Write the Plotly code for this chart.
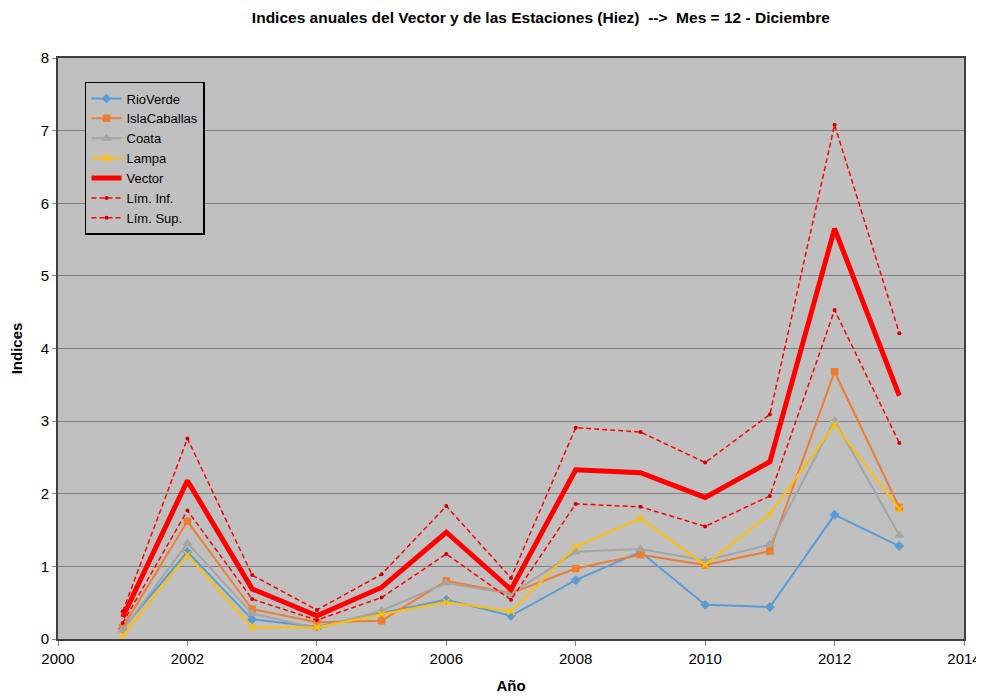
import plotly.graph_objects as go

# ================================
# Datos
# ================================
anios = [2001, 2002, 2003, 2004, 2005, 2006, 2007, 2008, 2009, 2010, 2011, 2012, 2013]

rio_verde = [0.14, 1.20, 0.27, 0.17, 0.36, 0.54, 0.32, 0.81, 1.20, 0.47, 0.44, 1.71, 1.28]
isla_caballas = [0.16, 1.62, 0.41, 0.23, 0.25, 0.80, 0.63, 0.97, 1.16, 1.02, 1.21, 3.68, 1.81]
coata = [0.12, 1.32, 0.35, 0.15, 0.39, 0.77, 0.62, 1.20, 1.24, 1.08, 1.30, 3.01, 1.43]
lampa = [0.04, 1.16, 0.16, 0.16, 0.34, 0.51, 0.38, 1.27, 1.66, 1.02, 1.72, 2.95, 1.79]
vector = [0.30, 2.18, 0.69, 0.32, 0.71, 1.47, 0.68, 2.33, 2.29, 1.95, 2.44, 5.65, 3.35]
lim_inf = [0.22, 1.77, 0.55, 0.26, 0.57, 1.17, 0.54, 1.86, 1.82, 1.55, 1.97, 4.53, 2.70]
lim_sup = [0.38, 2.76, 0.88, 0.40, 0.89, 1.83, 0.84, 2.91, 2.85, 2.43, 3.09, 7.08, 4.21]

FUENTE = "Liberation Sans, Arial"

fig = go.Figure()

estaciones = [
    ("RioVerde", rio_verde, "#5B9BD5", "diamond", 6),
    ("IslaCaballas", isla_caballas, "#ED7D31", "square", 6),
    ("Coata", coata, "#A5A5A5", "triangle-up", 7),
    ("Lampa", lampa, "#FFC000", "x-thin-open", 7),
]
for nombre, valores, color, simbolo, tam in estaciones:
    fig.add_trace(go.Scatter(
        x=anios, y=valores, name=nombre, mode="lines+markers",
        line=dict(color=color, width=2),
        marker=dict(symbol=simbolo, size=tam, color=color,
                    line=dict(color=color, width=1.5)),
    ))

fig.add_trace(go.Scatter(
    x=anios, y=vector, name="Vector", mode="lines",
    line=dict(color="#FF0000", width=5),
))
for nombre, valores in [("Lím. Inf.", lim_inf), ("Lím. Sup.", lim_sup)]:
    fig.add_trace(go.Scatter(
        x=anios, y=valores, name=nombre, mode="lines+markers",
        line=dict(color="#FF0000", width=1.5, dash="5px,3px"),
        marker=dict(symbol="circle", size=4, color="#D00000"),
    ))

# la página tiene 8px de margen en el body: figura de 976x690
fig.update_layout(
    width=976, height=690,
    margin=dict(l=50, r=20, t=50, b=59),
    paper_bgcolor="white",
    plot_bgcolor="#C0C0C0",
    font=dict(family=FUENTE, color="black"),
    title=dict(
        text="<b>Indices anuales del Vector y de las Estaciones (Hiez)  -->  Mes = 12 - Diciembre</b>",
        x=0.546, xanchor="center", y=0.9855, yanchor="middle",
        font=dict(size=15.5, family=FUENTE),
    ),
    legend=dict(
        x=0.0298, y=0.9587, xanchor="left", yanchor="top",
        bgcolor="#C0C0C0", bordercolor="black", borderwidth=1.5,
        font=dict(size=13, family=FUENTE),
        tracegroupgap=0,
    ),
    showlegend=True,
)

fig.update_xaxes(
    range=[2000, 2014], dtick=2, tick0=2000,
    showgrid=False, zeroline=False, automargin=False,
    showline=True, linecolor="#404040", linewidth=2, mirror=True,
    ticks="outside", ticklen=5, tickcolor="#808080",
    tickfont=dict(size=15),
    title=dict(text="<b>Año</b>", font=dict(size=15), standoff=14),
)
fig.update_yaxes(
    range=[0, 8], dtick=1,
    showgrid=True, gridcolor="#808080", gridwidth=1, zeroline=False,
    automargin=False,
    showline=True, linecolor="#404040", linewidth=2, mirror=True,
    ticks="outside", ticklen=4, tickcolor="#808080",
    tickfont=dict(size=15),
    title=dict(text="<b>Indices</b>", font=dict(size=15), standoff=14),
)

fig.write_html("out.html")
